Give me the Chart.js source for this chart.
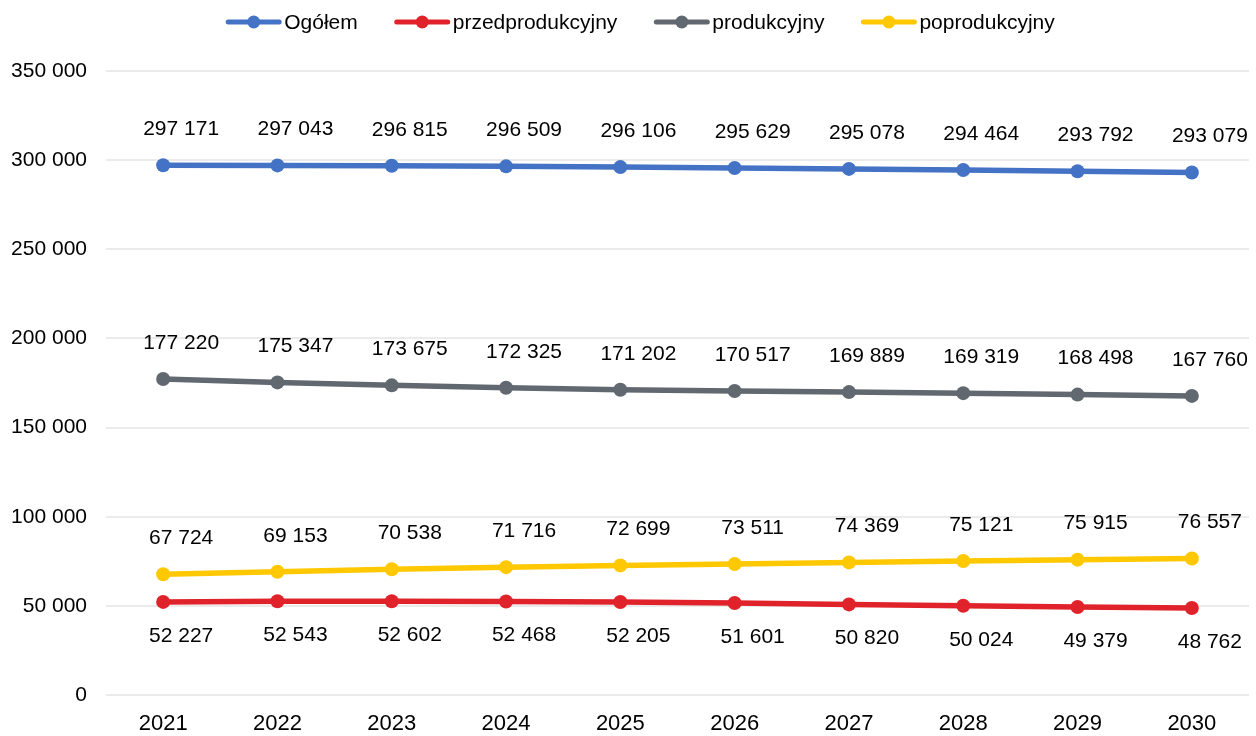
<!DOCTYPE html>
<html lang="pl">
<head>
    <meta charset="UTF-8">
    <title>Prognoza ludności</title>
    <script src="https://cdn.jsdelivr.net/npm/chart.js"></script>
    <style>
        body {
            margin: 0;
            padding: 0;
            background: #ffffff;
        }

        .chart-box {
            width: 1256px;
            height: 736px;
        }
    </style>
</head>
<body>
    <div class="chart-box">
        <canvas id="lineChart"></canvas>
    </div>

    <script>
        const years = ["2021", "2022", "2023", "2024", "2025", "2026", "2027", "2028", "2029", "2030"];
        const seriesNames = ["Ogółem", "przedprodukcyjny", "produkcyjny", "poprodukcyjny"];
        const ogolem = [297171, 297043, 296815, 296509, 296106, 295629, 295078, 294464, 293792, 293079];
        const przedprodukcyjny = [52227, 52543, 52602, 52468, 52205, 51601, 50820, 50024, 49379, 48762];
        const produkcyjny = [177220, 175347, 173675, 172325, 171202, 170517, 169889, 169319, 168498, 167760];
        const poprodukcyjny = [67724, 69153, 70538, 71716, 72699, 73511, 74369, 75121, 75915, 76557];
        const yTicks = [0, 50000, 100000, 150000, 200000, 250000, 300000, 350000];

        const colors = ['#4472c4', '#e0232b', '#61686f', '#ffc800'];
        const labelBelow = [false, true, false, false];
        const FONT = '"Liberation Sans", Arial, sans-serif';

        // 297171 -> "297 171"
        function fmt(v) {
            return String(v).replace(/\B(?=(\d{3})+(?!\d))/g, ' ');
        }

        // value labels next to every point
        const valueLabels = {
            id: 'valueLabels',
            afterDatasetsDraw(chart) {
                const ctx = chart.ctx;
                ctx.save();
                ctx.font = '21px ' + FONT;
                ctx.fillStyle = '#000000';
                ctx.textAlign = 'center';
                ctx.textBaseline = 'middle';
                chart.data.datasets.forEach((ds, i) => {
                    const meta = chart.getDatasetMeta(i);
                    meta.data.forEach((pt, j) => {
                        const dy = labelBelow[i] ? 34 : -36;
                        ctx.fillText(fmt(ds.data[j]), pt.x + 18, pt.y + dy);
                    });
                });
                ctx.restore();
            }
        };

        // legend: line with a dot, text right after it
        const topLegend = {
            id: 'topLegend',
            afterDraw(chart) {
                const ctx = chart.ctx;
                const lineW = 57, gap = 2, itemGap = 36, cy = 22;
                ctx.save();
                ctx.font = '21px ' + FONT;
                const widths = seriesNames.map(n => ctx.measureText(n).width);
                let total = 0;
                widths.forEach(w => total += lineW + gap + w);
                total += itemGap * (seriesNames.length - 1);
                let x = 640 - total / 2;
                seriesNames.forEach((name, i) => {
                    ctx.strokeStyle = colors[i];
                    ctx.lineWidth = 5;
                    ctx.lineCap = 'round';
                    ctx.beginPath();
                    ctx.moveTo(x + 3, cy);
                    ctx.lineTo(x + lineW - 3, cy);
                    ctx.stroke();
                    ctx.fillStyle = colors[i];
                    ctx.beginPath();
                    ctx.arc(x + lineW / 2, cy, 6.5, 0, Math.PI * 2);
                    ctx.fill();
                    ctx.fillStyle = '#000000';
                    ctx.textAlign = 'left';
                    ctx.textBaseline = 'middle';
                    ctx.fillText(name, x + lineW + gap, cy + 1);
                    x += lineW + gap + widths[i] + itemGap;
                });
                ctx.restore();
            }
        };

        const allSeries = [ogolem, przedprodukcyjny, produkcyjny, poprodukcyjny];

        new Chart(document.getElementById("lineChart"), {
            type: 'line',
            data: {
                labels: years,
                datasets: allSeries.map((d, i) => ({
                    label: seriesNames[i],
                    data: d,
                    borderColor: colors[i],
                    backgroundColor: colors[i],
                    borderWidth: 5.5,
                    pointRadius: 7,
                    pointHoverRadius: 7,
                    pointBorderWidth: 0,
                    fill: false,
                    tension: 0
                }))
            },
            options: {
                responsive: true,
                maintainAspectRatio: false,
                animation: false,
                layout: { padding: { top: 71, right: 6, left: 0, bottom: 0 } },
                plugins: {
                    legend: { display: false },
                    tooltip: { enabled: false }
                },
                scales: {
                    x: {
                        offset: true,
                        grid: { display: false, drawTicks: false },
                        border: { display: false },
                        ticks: { color: '#000000', font: { family: FONT, size: 22 }, padding: 16 },
                        afterFit(scale) { scale.height = 41; }
                    },
                    y: {
                        min: 0,
                        max: 350000,
                        afterBuildTicks(scale) { scale.ticks = yTicks.map(v => ({ value: v })); },
                        grid: { color: '#ebebeb', lineWidth: 2, drawTicks: false },
                        border: { display: false },
                        ticks: {
                            color: '#000000',
                            font: { family: FONT, size: 21 },
                            padding: 19,
                            callback: v => fmt(v)
                        },
                        afterFit(scale) { scale.width = 106; }
                    }
                }
            },
            plugins: [valueLabels, topLegend]
        });
    </script>
</body>
</html>
